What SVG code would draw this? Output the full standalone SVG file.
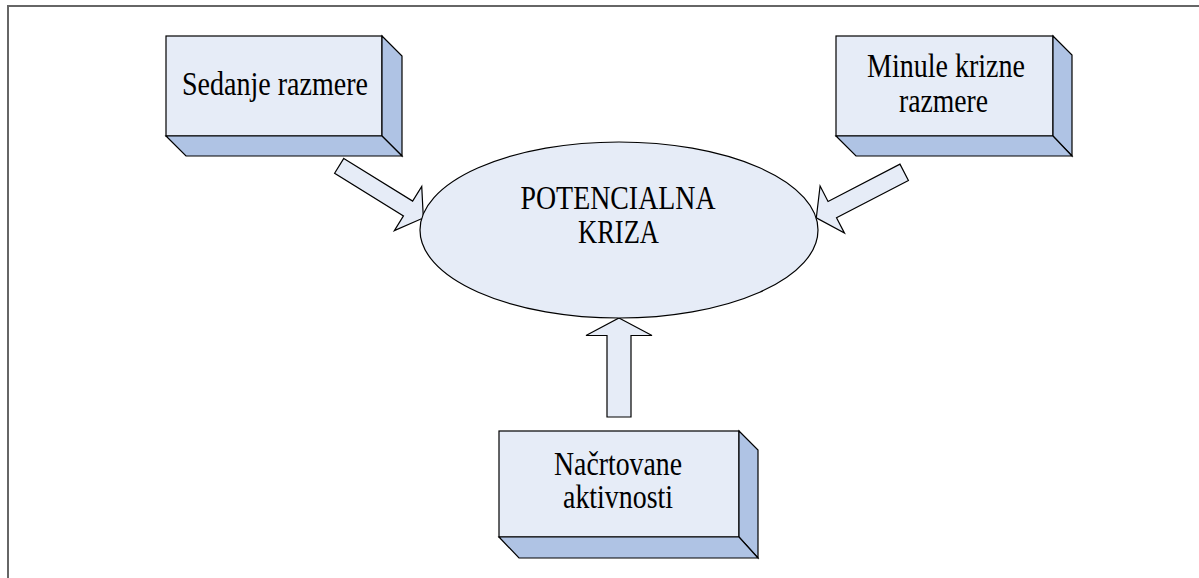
<svg xmlns="http://www.w3.org/2000/svg" width="1199" height="578" viewBox="0 0 1199 578">
<style>
.front{fill:#E6ECF7;stroke:#000;stroke-width:1.2}
.side{fill:#AFC3E4;stroke:#000;stroke-width:1.2;stroke-linejoin:miter}
.arrow{fill:#E6ECF7;stroke:#000;stroke-width:1.2;stroke-linejoin:miter}
.lbl{font-family:"Liberation Serif","Times New Roman",serif;font-size:33px;fill:#000;text-anchor:middle}
.frame{stroke:#666;stroke-width:2;fill:none}
</style>
<rect width="1199" height="578" fill="#fff"/>
<path class="frame" d="M8,578 V6 H1199"/>
<g id="connectors">
  <polygon class="arrow" transform="translate(339.2,165.8) rotate(31.8)" points="0,-8.7 81,-8.7 81,-26 99,0 81,26 81,8.7 0,8.7"/>
  <polygon class="arrow" transform="translate(904.2,172.3) rotate(152.6)" points="0,-9.2 81,-9.2 81,-26.5 99,0 81,26.5 81,9.2 0,9.2"/>
  <polygon class="arrow" points="619,318 652,335.5 631,335.5 631,417 607,417 607,335.5 586,335.5"/>
</g>
<g id="node-potencialna-kriza">
  <ellipse class="front" cx="619" cy="230" rx="199" ry="88"/>
  <text class="lbl" x="618" y="208.5" textLength="195" lengthAdjust="spacingAndGlyphs">POTENCIALNA</text>
  <text class="lbl" x="618.5" y="242.5" textLength="81" lengthAdjust="spacingAndGlyphs">KRIZA</text>
</g>
<g id="node-sedanje-razmere">
  <rect class="front" x="166" y="36" width="216" height="100"/>
  <polygon class="side" points="382,36 402,56 402,156 382,136"/>
  <polygon class="side" points="166,136 382,136 402,156 186,156"/>
  <text class="lbl" x="275" y="95" textLength="186" lengthAdjust="spacingAndGlyphs">Sedanje razmere</text>
</g>
<g id="node-minule-krizne-razmere">
  <rect class="front" x="836" y="36" width="217" height="100"/>
  <polygon class="side" points="1053,36 1072,55 1072,156 1053,136"/>
  <polygon class="side" points="836,136 1053,136 1072,156 856,156"/>
  <text class="lbl" x="946" y="77" textLength="158" lengthAdjust="spacingAndGlyphs">Minule krizne</text>
  <text class="lbl" x="943.5" y="112" textLength="89" lengthAdjust="spacingAndGlyphs">razmere</text>
</g>
<g id="node-nacrtovane-aktivnosti">
  <rect class="front" x="499" y="431" width="240" height="106"/>
  <polygon class="side" points="739,431 758,450 758,558 739,537"/>
  <polygon class="side" points="499,537 739,537 758,558 519,558"/>
  <text class="lbl" x="618" y="475" textLength="128" lengthAdjust="spacingAndGlyphs">Načrtovane</text>
  <text class="lbl" x="618" y="508" textLength="110" lengthAdjust="spacingAndGlyphs">aktivnosti</text>
</g>
</svg>
